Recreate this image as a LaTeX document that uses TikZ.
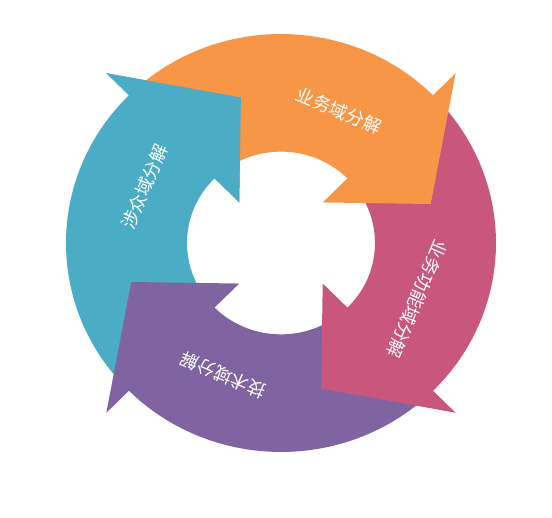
\documentclass[tikz,border=0pt]{standalone}
\usepackage{fontspec}
\newfontfamily\cjk{Noto Sans CJK SC}
\definecolor{cyanA}{HTML}{4BACC6}
\definecolor{purpleA}{HTML}{8064A2}
\definecolor{pinkA}{HTML}{C9567D}
\definecolor{orangeA}{HTML}{F79646}
\newcommand{\Rout}{215pt}
\newcommand{\Rin}{94pt}
\newcommand{\Rmid}{155pt}
\newcommand{\Rtxt}{148pt}
\newcommand{\Rbarbout}{247pt}
\newcommand{\Rbarbin}{59pt}
\tikzset{
    arrow label/.style={text=white, inner sep=0pt, font=\cjk\fontsize{18}{18}\selectfont},
}

\begin{document}
\begin{tikzpicture}
    \useasboundingbox (-281pt,-275pt) rectangle (271pt,243pt);
    \begin{scope}[yscale=0.972]
    \foreach \h/\col/\txt/\nm in {135/cyanA/涉众域分解/stake, 225/purpleA/技术域分解/tech, 315/pinkA/业务功能域分解/func, 45/orangeA/业务域分解/biz} {
        \fill[\col] ({\h+87}:\Rin) -- ({\h+87}:\Rout)
            arc[start angle=\h+87, end angle=\h, radius=\Rout]
            -- (\h:\Rbarbout) -- ({\h-30}:\Rmid) -- (\h:\Rbarbin) -- (\h:\Rin)
            arc[start angle=\h, end angle=\h+87, radius=\Rin] -- cycle;
        \node[arrow label, rotate=\h-68] (\nm) at ({\h+22}:\Rtxt) {\txt};
    }
    \fill[cyanA] (135:\Rbarbout) -- (105:\Rmid) -- (135:\Rbarbin) -- cycle;
    \end{scope}
\end{tikzpicture}
\end{document}
